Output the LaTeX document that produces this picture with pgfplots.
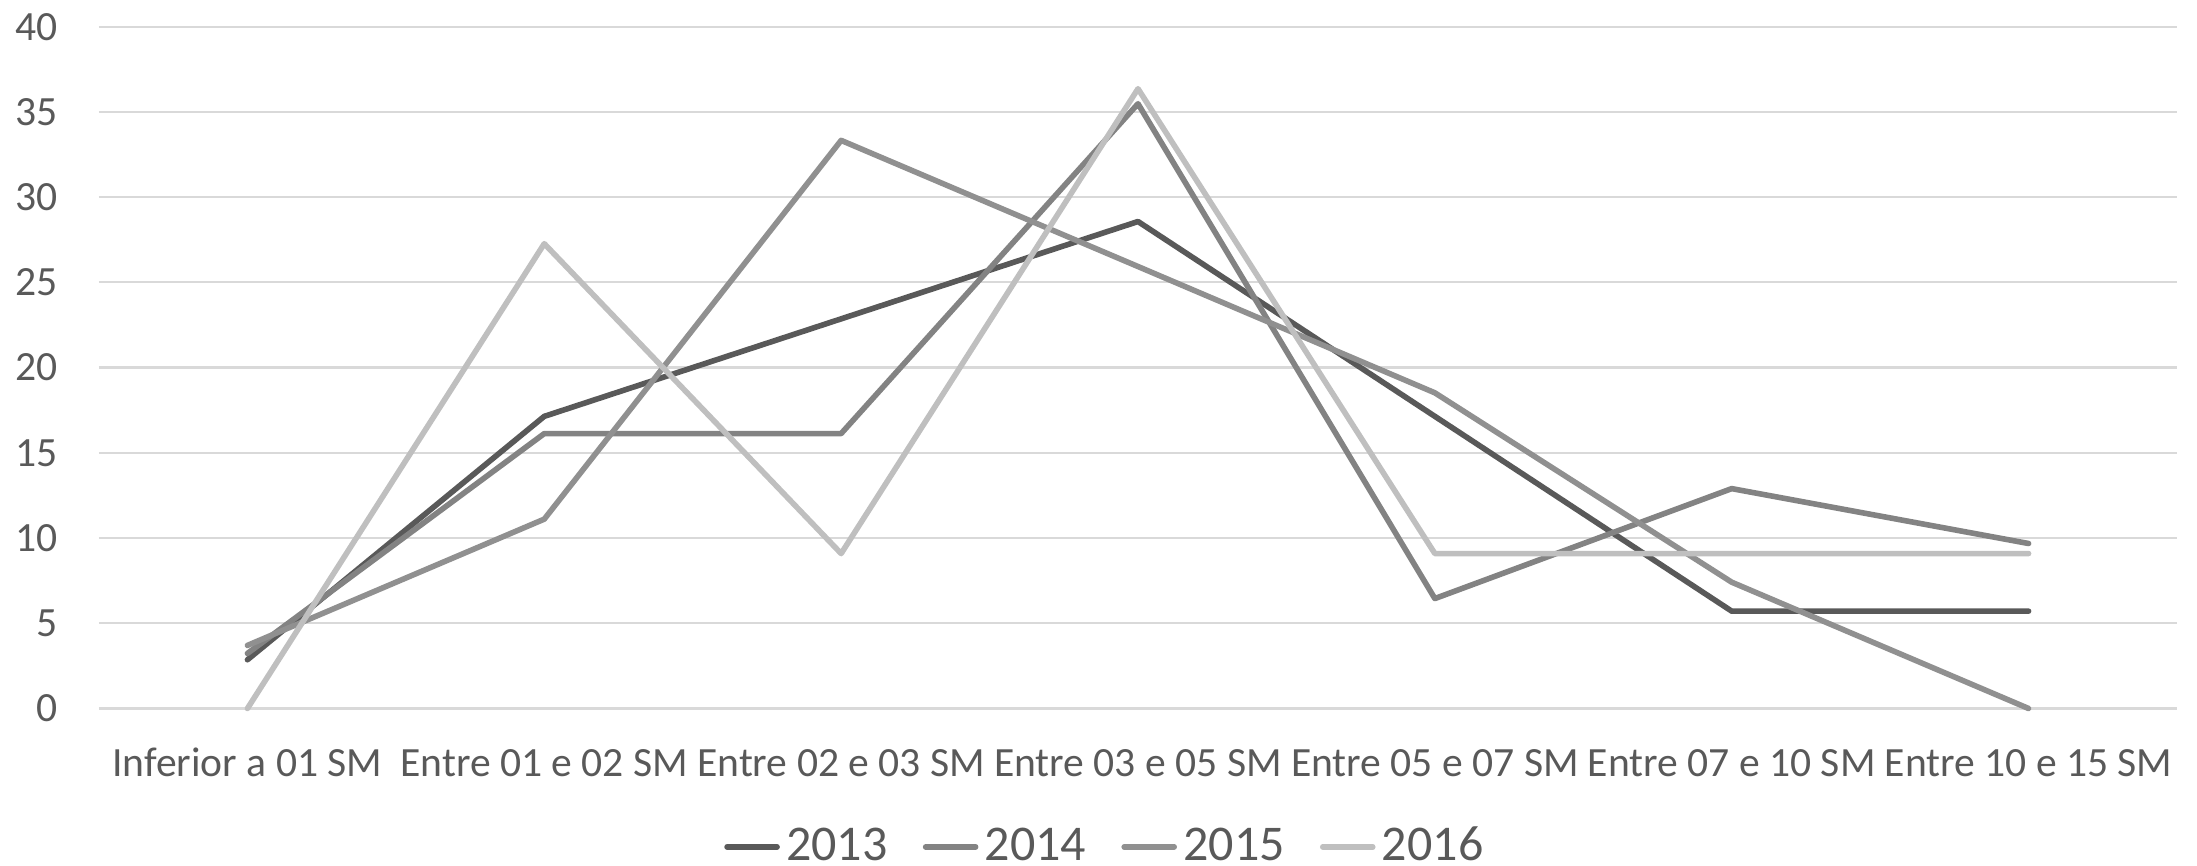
\documentclass[border=0pt]{standalone}
\usepackage{fontspec}
\setmainfont{Carlito}
\usepackage{pgfplots}
\pgfplotsset{compat=1.18}

\definecolor{c2013}{HTML}{595959}
\definecolor{c2014}{HTML}{838383}
\definecolor{c2015}{HTML}{909090}
\definecolor{c2016}{HTML}{BFBFBF}
\definecolor{gridc}{HTML}{D9D9D9}
\definecolor{txt}{HTML}{595959}

\begin{document}
\begin{tikzpicture}
\begin{axis}[
  name=ax,
  scale only axis,
  width=519.5pt, height=170.45pt,
  xmin=-0.5, xmax=6.5, ymin=0, ymax=40,
  xtick={0,...,6},
  xticklabels={Inferior a 01 SM,Entre 01 e 02 SM,Entre 02 e 03 SM,Entre 03 e 05 SM,Entre 05 e 07 SM,Entre 07 e 10 SM,Entre 10 e 15 SM},
  ytick={0,5,...,40},
  ymajorgrids,
  major grid style={gridc, line width=0.55pt},
  axis line style={draw=none},
  tick style={draw=none},
  clip=false,
  /pgf/number format/assume math mode=true,
  tick label style={font=\fontsize{10.4}{12}\selectfont, text=txt},
  y tick label style={inner sep=0pt, xshift=-10.25pt},
  x tick label style={anchor=base, inner sep=0pt, yshift=-17pt},
  every axis plot/.append style={line width=1.4pt, line cap=round, line join=round},
  legend columns=4,
  legend style={draw=none, fill=none, at={(252pt,-34.6pt)}, anchor=center,
    font=\fontsize{12.5}{14}\selectfont, text=txt,
    /tikz/every even column/.append style={column sep=7.2pt},
    nodes={inner sep=1.6pt}},
  legend image code/.code={\draw[#1, line cap=round] (0pt,0pt) -- (12.5pt,0pt);},
]
% 2013
\addplot[c2013] coordinates {(0,2.86) (1,17.14) (2,22.86) (3,28.57) (4,17.14) (5,5.71) (6,5.71)};
% 2014
\addplot[c2014] coordinates {(0,3.23) (1,16.13) (2,16.13) (3,35.48) (4,6.45) (5,12.90) (6,9.68)};
% 2015
\addplot[c2015] coordinates {(0,3.70) (1,11.11) (2,33.33) (3,25.93) (4,18.52) (5,7.41) (6,0)};
% 2016
\addplot[c2016] coordinates {(0,0) (1,27.27) (2,9.09) (3,36.36) (4,9.09) (5,9.09) (6,9.09)};
\legend{2013,2014,2015,2016}
\end{axis}
\pgfresetboundingbox
\path (ax.south west) ++(-24.75pt,-39.375pt) rectangle ++(549.25pt,216.5pt);
\end{tikzpicture}
\end{document}
